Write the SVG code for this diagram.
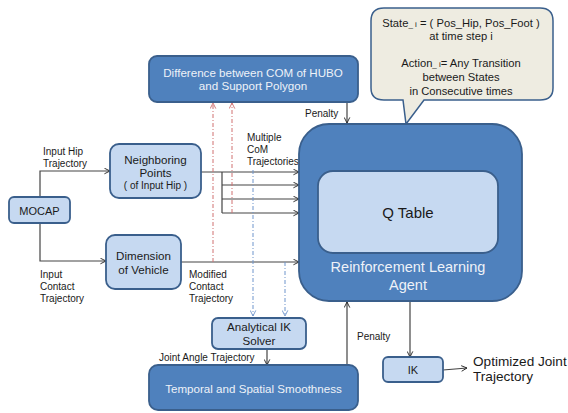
<svg xmlns="http://www.w3.org/2000/svg" width="568" height="413" viewBox="0 0 568 413">
<defs>
<marker id="arr" viewBox="0 0 10 10" refX="9" refY="5" markerWidth="7" markerHeight="7" orient="auto" markerUnits="userSpaceOnUse">
<path d="M1,1 L9,5 L1,9" fill="none" stroke="#222" stroke-width="1.3"/>
</marker>
<marker id="arrR" viewBox="0 0 10 10" refX="9" refY="5" markerWidth="7" markerHeight="7" orient="auto" markerUnits="userSpaceOnUse">
<path d="M1,1 L9,5 L1,9" fill="none" stroke="#d07070" stroke-width="1.3"/>
</marker>
<marker id="arrB" viewBox="0 0 10 10" refX="9" refY="5" markerWidth="7" markerHeight="7" orient="auto" markerUnits="userSpaceOnUse">
<path d="M1,1 L9,5 L1,9" fill="none" stroke="#6f95cc" stroke-width="1.3"/>
</marker>
</defs>
<style>
text{font-family:"Liberation Sans","Noto Sans",sans-serif;}
.light{fill:#c6d9f1;stroke:#3a5f8c;stroke-width:1.8;}
.dark{fill:#4f81bd;stroke:#3a5f8c;stroke-width:1.8;}
.tl{font-size:11.6px;fill:#1a1a1a;text-anchor:middle;}
.tw{font-size:11.6px;fill:#eef2f8;text-anchor:middle;}
.tc{font-size:11.2px;fill:#1a1a1a;text-anchor:middle;}
.lab{font-size:10px;fill:#1a1a1a;}
.ln{stroke:#444;stroke-width:1.2;fill:none;}
.red{stroke:#d07070;stroke-width:1;fill:none;stroke-dasharray:4 2 1 2;}
.blue{stroke:#6f95cc;stroke-width:1;fill:none;stroke-dasharray:4 2 1 2;}
</style>

<g id="connectors">
<path class="ln" d="M40,197 V171 H110" marker-end="url(#arr)"/>
<path class="ln" d="M40,223 V261 H106" marker-end="url(#arr)"/>
<path class="ln" d="M201,172 H299" marker-end="url(#arr)"/>
<path class="ln" d="M222,172 V213"/>
<path class="ln" d="M222,185 H299" marker-end="url(#arr)"/>
<path class="ln" d="M222,199 H299" marker-end="url(#arr)"/>
<path class="ln" d="M222,213 H299" marker-end="url(#arr)"/>
<path class="ln" d="M181,262 H299" marker-end="url(#arr)"/>
<path class="red" d="M213,262 V103" marker-end="url(#arrR)"/>
<path class="red" d="M232,213 V103" marker-end="url(#arrR)"/>
<path class="blue" d="M253,170 V316" marker-end="url(#arrB)"/>
<path class="blue" d="M285,262 V316" marker-end="url(#arrB)"/>
<path class="ln" d="M347,102 V123" marker-end="url(#arr)"/>
<path class="ln" d="M267,349 V365" marker-end="url(#arr)"/>
<path class="ln" d="M347,365 V302" marker-end="url(#arr)"/>
<path class="ln" d="M410,301 V357" marker-end="url(#arr)"/>
<path class="ln" d="M443,370 L467,368" marker-end="url(#arr)"/>
<text class="lab" x="43" y="155">Input Hip</text>
<text class="lab" x="43" y="167">Trajectory</text>
<text class="lab" x="40" y="278">Input</text>
<text class="lab" x="40" y="290">Contact</text>
<text class="lab" x="40" y="302">Trajectory</text>
<text class="lab" x="247" y="141">Multiple</text>
<text class="lab" x="247" y="153">CoM</text>
<text class="lab" x="247" y="165">Trajectories</text>
<text class="lab" x="189" y="278">Modified</text>
<text class="lab" x="189" y="290">Contact</text>
<text class="lab" x="189" y="302">Trajectory</text>
<text class="lab" x="305" y="117">Penalty</text>
<text class="lab" x="357" y="340">Penalty</text>
<text class="lab" x="159" y="361">Joint Angle Trajectory</text>
<text x="473" y="366" style="font-size:13.6px;fill:#1a1a1a;">Optimized Joint</text>
<text x="473" y="381" style="font-size:13.6px;fill:#1a1a1a;">Trajectory</text>
</g>

<g id="callout">
<path d="M384,8 H540 Q553,8 553,21 V88 Q553,100 540,100 H424 L406,124 L403,100 H384 Q371,100 371,88 V21 Q371,8 384,8 Z" fill="#eeece1" stroke="#3a5f8c" stroke-width="1.5"/>
<text class="tc" x="461" y="27">State<tspan font-size="8">_ i</tspan> = ( Pos_Hip, Pos_Foot )</text>
<text class="tc" x="461" y="40">at time step i</text>
<text class="tc" x="461" y="67">Action<tspan font-size="8">_ i</tspan>= Any Transition</text>
<text class="tc" x="461" y="81">between States</text>
<text class="tc" x="461" y="95">in Consecutive times</text>
</g>

<g id="difference">
<rect class="dark" x="149" y="56" width="209" height="46" rx="8"/>
<text class="tw" x="253" y="77">Difference between COM of HUBO</text>
<text class="tw" x="253" y="90">and Support Polygon</text>
</g>

<g id="agent">
<rect class="dark" x="299" y="124" width="223" height="177" rx="30"/>
<rect class="light" x="318" y="171" width="180" height="82" rx="15"/>
<text class="tl" x="408" y="218" style="font-size:15px;">Q Table</text>
<text class="tw" x="408" y="272" style="font-size:14.5px;">Reinforcement Learning</text>
<text class="tw" x="408" y="290" style="font-size:14.5px;">Agent</text>
</g>

<g id="mocap">
<rect class="light" x="9" y="197" width="61" height="26" rx="5"/>
<text class="tl" x="39.5" y="214.5" style="font-size:11px;">MOCAP</text>
</g>

<g id="neighboring">
<rect class="light" x="110" y="144" width="91" height="54" rx="9"/>
<text class="tl" x="155.5" y="164">Neighboring</text>
<text class="tl" x="155.5" y="176.5">Points</text>
<text class="tl" x="155.5" y="188.5" style="font-size:10px;">( of Input Hip )</text>
</g>

<g id="dimension">
<rect class="light" x="106" y="235" width="75" height="54" rx="9"/>
<text class="tl" x="143.5" y="260">Dimension</text>
<text class="tl" x="143.5" y="274">of Vehicle</text>
</g>

<g id="analytical">
<rect class="light" x="212" y="318" width="94" height="31" rx="6"/>
<text class="tl" x="259" y="331">Analytical IK</text>
<text class="tl" x="259" y="345">Solver</text>
</g>

<g id="temporal">
<rect class="dark" x="149" y="365" width="209" height="45" rx="9"/>
<text class="tw" x="253.5" y="393">Temporal and Spatial Smoothness</text>
</g>

<g id="ik">
<rect class="light" x="383" y="357" width="60" height="25" rx="5"/>
<text class="tl" x="413" y="373.5" style="font-size:11px;">IK</text>
</g>
</svg>
